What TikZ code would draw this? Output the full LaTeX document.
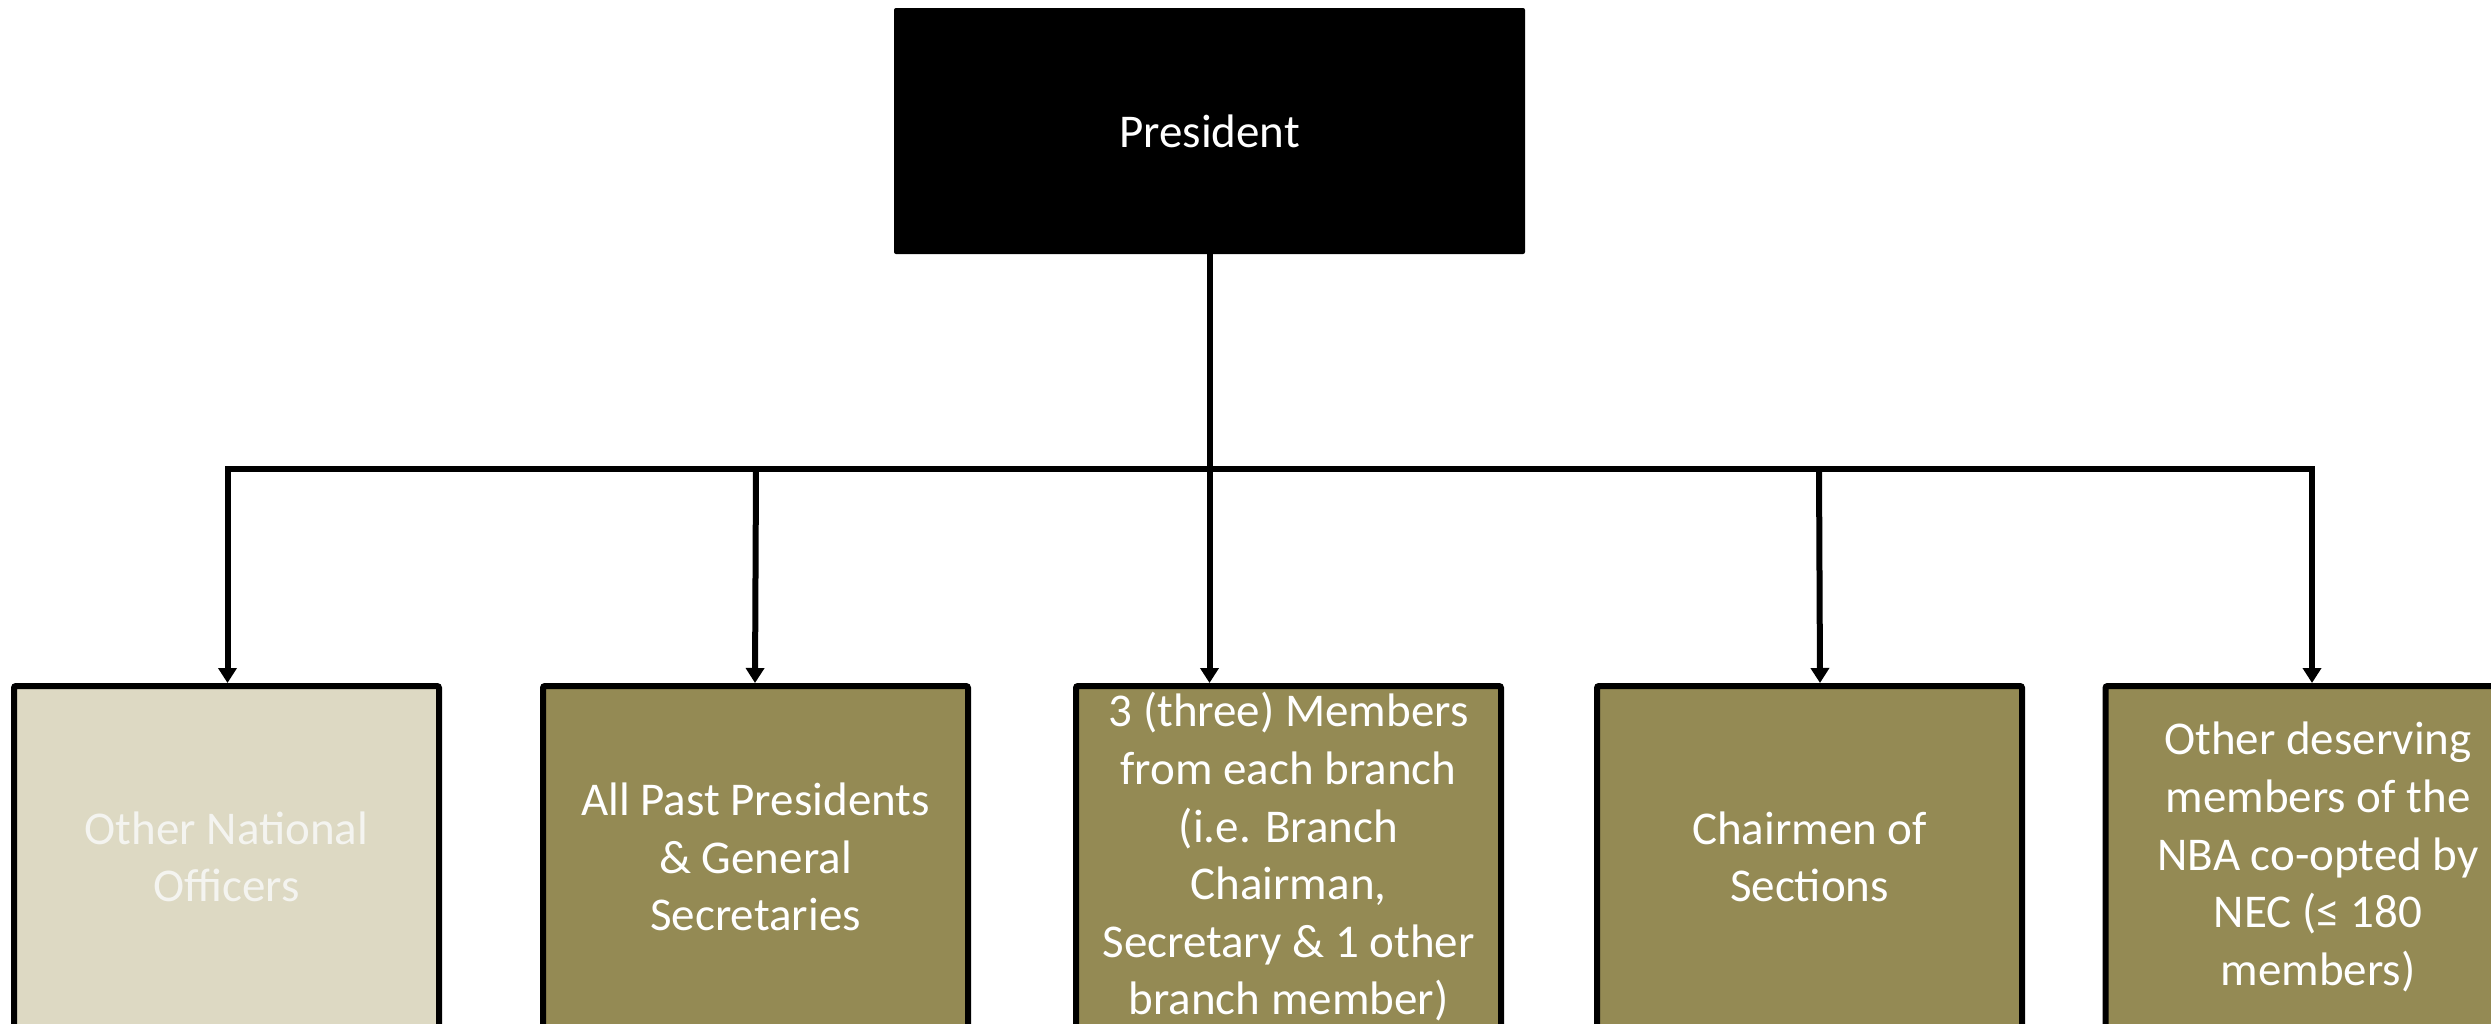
\documentclass[tikz,border=0pt]{standalone}
\usepackage{fontspec}
\setmainfont{Carlito}
\usetikzlibrary{arrows.meta}
\definecolor{olivebox}{HTML}{948A54}
\definecolor{sandbox}{HTML}{DDD9C3}
\definecolor{paletext}{HTML}{F4F4F0}

\begin{document}
\begin{tikzpicture}[x=1pt,y=-1pt,
  every node/.style={font=\fontsize{47}{57.6}\selectfont, text=white, align=center, inner sep=0pt},
  unit/.style={draw=black, line width=6pt, fill=olivebox, minimum width=425pt, minimum height=342pt, rounded corners=2pt},
  link/.style={line width=6pt, line join=miter, -{Triangle[width=18pt,length=15pt]}},
  bar/.style={line width=6pt},
]
\useasboundingbox (0,0) rectangle (2491,1023);
\clip (0,0) rectangle (2491,1023);

% head of the chart
\node[fill=black, minimum width=631pt, minimum height=246pt, rounded corners=2pt] (pres) at (1209.5,131) {President};

% member groups
\node[unit, fill=sandbox, text=paletext] (b1) at (226.5,857) {Other National\\Officers};
\node[unit] (b2) at (755.5,857) {All Past Presidents\\\& General\\Secretaries};
\node[unit] (b3) at (1288.5,857) {3 (three) Members\\from each branch\\(i.e. Branch\\Chairman,\\Secretary \& 1 other\\branch member)};
\node[unit] (b4) at (1809.5,857) {Chairmen of\\Sections};
\node[unit] (b5) at (2318,857) {Other deserving\\members of the\\NBA co-opted by\\NEC (≤ 180\\members)};

% junctions on the distribution bar
\coordinate (hub) at (1209.5,469);
\coordinate (j1) at (227.5,469);
\coordinate (j2) at (756,469);
\coordinate (j3) at (1209.5,469);
\coordinate (j4) at (1819,469);
\coordinate (j5) at (2312,469);

% connectors
\draw[bar] (pres.south) -- (hub);
\draw[link] (hub) -- (j1) -- (j1 |- b1.north);
\draw[link] (hub) -- (j5) -- (j5 |- b5.north);
\draw[link] (j2) -- (755,683);
\draw[link] (j3) -- (j3 |- b3.north);
\draw[link] (j4) -- (1820,683);
\end{tikzpicture}
\end{document}
